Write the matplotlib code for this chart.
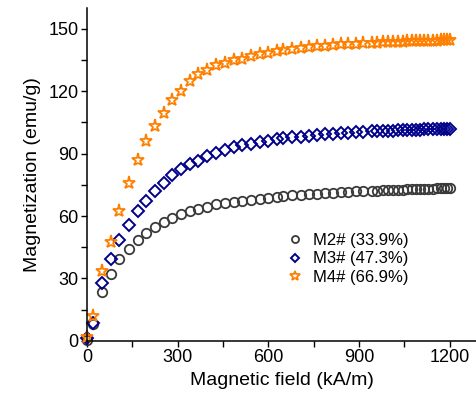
import matplotlib
matplotlib.use("Agg")
import matplotlib.pyplot as plt
from matplotlib.ticker import MultipleLocator

plt.rcParams["font.family"] = ["Liberation Sans", "DejaVu Sans"]

# magnetic field (kA/m)
field = [2, 20, 50, 80, 108, 139, 168, 196, 225, 254, 282, 311, 342, 369, 399,
         428, 456, 485, 514, 542, 571, 599, 628, 650, 678, 707, 735, 762, 788,
         815, 840, 865, 890, 914, 942, 960, 978, 997, 1013, 1030, 1044, 1059,
         1074, 1088, 1101, 1114, 1129, 1143, 1157, 1170, 1181, 1192, 1200]

m2 = [0.5, 8.0, 23.6, 32.1, 39.2, 44.0, 48.5, 52.0, 54.9, 57.1, 59.0, 61.0, 62.3,
      63.5, 64.5, 65.8, 66.4, 66.9, 67.4, 67.7, 68.0, 68.7, 69.3, 69.6, 69.9,
      70.2, 70.5, 70.8, 71.0, 71.2, 71.4, 71.6, 71.8, 71.9, 72.1, 72.2, 72.3,
      72.4, 72.5, 72.6, 72.7, 72.8, 72.9, 72.95, 73.0, 73.1, 73.15, 73.2, 73.3,
      73.35, 73.4, 73.45, 73.5]

m3 = [1.2, 8.4, 27.9, 39.2, 48.5, 55.8, 62.4, 67.2, 72.2, 76.0, 79.7, 82.8, 85.0,
      86.6, 88.9, 90.5, 91.8, 93.1, 94.0, 94.7, 95.6, 96.0, 96.9, 97.3, 97.8,
      98.2, 98.6, 99.0, 99.3, 99.6, 99.9, 100.1, 100.3, 100.5, 100.7, 100.8,
      100.9, 101.0, 101.1, 101.2, 101.3, 101.4, 101.45, 101.5, 101.6, 101.65,
      101.7, 101.8, 101.85, 101.9, 101.95, 102.0, 102.0]

m4 = [1.9, 11.9, 33.7, 47.6, 62.6, 76.0, 87.0, 96.2, 103.3, 109.7, 115.8, 120.3,
      124.8, 128.3, 130.3, 132.5, 133.8, 135.1, 135.7, 137.0, 138.0, 138.6,
      139.3, 139.8, 140.3, 140.8, 141.2, 141.6, 141.9, 142.2, 142.5, 142.7,
      142.9, 143.1, 143.3, 143.4, 143.5, 143.6, 143.7, 143.8, 143.9, 144.0,
      144.05, 144.1, 144.15, 144.2, 144.25, 144.3, 144.35, 144.4, 144.4,
      144.45, 144.5]

labels = ["M2# (33.9%)", "M3# (47.3%)", "M4# (66.9%)"]

fig = plt.figure(figsize=(4.77, 4.01), dpi=100)
ax = fig.add_axes([0.182, 0.150, 0.818, 0.830])

ax.plot(field, m2, "o", ls="none", mfc="none", mec="#3a3a3a", ms=6.8, mew=1.3,
        label=labels[0], clip_on=False)
ax.plot(field, m3, "D", ls="none", mfc="none", mec="#00008b", ms=5.8, mew=1.4,
        label=labels[1], clip_on=False)
ax.plot(field, m4, "*", ls="none", mfc="none", mec="#ff8000", ms=9.5, mew=1.3,
        label=labels[2], clip_on=False)

ax.set_xlim(0, 1290)
ax.set_ylim(0, 160)
ax.xaxis.set_major_locator(MultipleLocator(300))
ax.xaxis.set_minor_locator(MultipleLocator(150))
ax.yaxis.set_major_locator(MultipleLocator(30))
ax.yaxis.set_minor_locator(MultipleLocator(15))
ax.tick_params(which="both", direction="out", length=4, width=1, labelsize=13,
               pad=2)
ax.spines["top"].set_visible(False)
ax.spines["right"].set_visible(False)
for s in ["left", "bottom"]:
    ax.spines[s].set_linewidth(1.1)

ax.set_xlabel("Magnetic field (kA/m)", fontsize=14, labelpad=4)
ax.set_ylabel("Magnetization (emu/g)", fontsize=14, labelpad=5)

ax.legend(loc="center left", bbox_to_anchor=(0.49, 0.246), frameon=False,
          fontsize=12, handlelength=1.0, handletextpad=0.6, labelspacing=0.2,
          borderpad=0, markerscale=0.75)

fig.savefig("out.png", dpi=100)
